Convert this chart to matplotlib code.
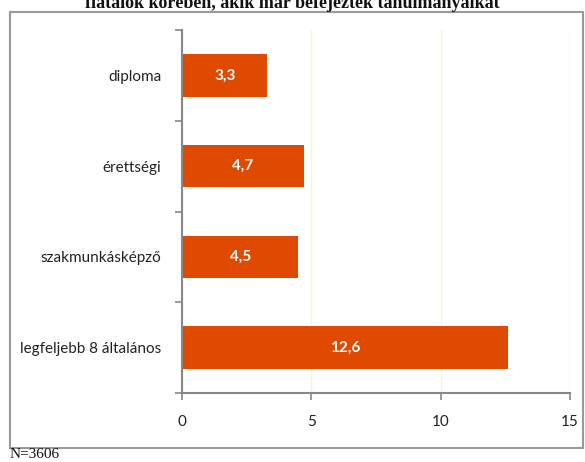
import matplotlib.pyplot as plt
from matplotlib.patches import Rectangle

categories = ["diploma", "érettségi", "szakmunkásképző", "legfeljebb 8 általános"]
values = [3.3, 4.7, 4.5, 12.6]
labels = ["3,3", "4,7", "4,5", "12,6"]
xticks = [0, 5, 10, 15]

W, H = 585, 462
fig = plt.figure(figsize=(W / 100, H / 100), dpi=100)

# outer frame around the chart
fig.patches.append(Rectangle((10 / W, 1 - 448 / H), 573 / W, 436 / H,
                             transform=fig.transFigure, fill=False,
                             edgecolor="#9a9a9a", linewidth=1.5))

# title line, partly cut at top of the page like the source
fig.text(0.5, 1 - 4 / H, "fiatalok körében, akik már befejezték tanulmányaikat",
         ha="center", va="center", fontsize=13, fontweight="bold",
         family="Liberation Serif", color="#111111")

ax = fig.add_axes([182 / W, 1 - 393 / H, 388 / W, 363 / H])

ypos = list(range(len(categories)))
ax.barh(ypos, values, height=0.47, color="#e04a00")
for y, v, lab in zip(ypos, values, labels):
    ax.text(v / 2, y, lab, ha="center", va="center", color="white",
            fontsize=11, fontweight="bold", family="Lato")

ax.set_xlim(0, 15)
ax.set_ylim(len(categories) - 0.5, -0.5)
ax.set_xticks(xticks)
ax.set_xticklabels([str(t) for t in xticks], family="Lato", fontsize=11, color="#222222")
ax.set_yticks(ypos)
ax.set_yticklabels(categories, family="Lato", fontsize=11, color="#222222")
ax.set_yticks([-0.5, 0.5, 1.5, 2.5, 3.5], minor=True)
ax.tick_params(axis="y", which="major", length=0, pad=15)
ax.tick_params(axis="y", which="minor", length=5, color="#888888", width=1.2)
ax.tick_params(axis="x", length=5, color="#888888", width=1.2, pad=11)

ax.grid(axis="x", color="#fff4c8", linewidth=1)
ax.set_axisbelow(True)
for s in ["top", "right"]:
    ax.spines[s].set_visible(False)
for s in ["left", "bottom"]:
    ax.spines[s].set_color("#888888")
    ax.spines[s].set_linewidth(1.5)

fig.text(10 / W, 1 - 455 / H, "N=3606", ha="left", va="center",
         fontsize=11, family="Liberation Serif", color="#111111")

fig.savefig("out.png", dpi=100)
